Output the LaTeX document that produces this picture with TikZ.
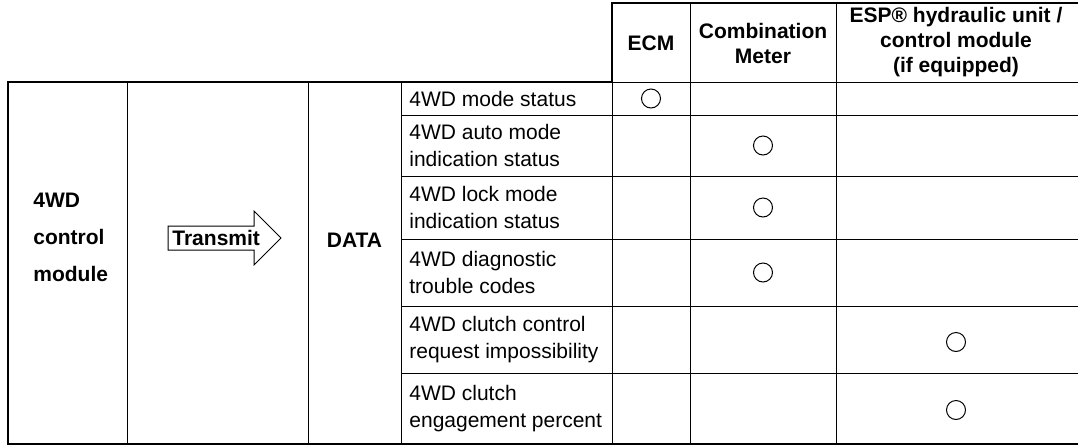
\documentclass[tikz,border=0pt]{standalone}
\usepackage{fontspec}
\setmainfont{Liberation Sans}
\usetikzlibrary{positioning}

\tikzset{
  frame/.style={line width=1pt},
  rule/.style={line width=0.5pt},
  head/.style={font=\bfseries\fontsize{10.5}{12.5}\selectfont, align=center, inner sep=0pt},
  item/.style={font=\fontsize{10.5}{13.5}\selectfont, align=left, anchor=west, inner sep=0pt},
  hit/.style={draw, circle, line width=0.5pt, minimum size=9.5pt, inner sep=0pt}
}

\begin{document}
\begin{tikzpicture}[x=0.5pt, y=-0.5pt, line cap=rect]
  \useasboundingbox (0,0) rectangle (1078,446);

  % Header frame
  \draw[frame] (612,82) -- (612,3) -- (1078,3);
  \draw[rule] (612,82) -- (1078,82);
  \draw[rule] (690,3) -- (690,444);
  \draw[rule] (836,3) -- (836,444);

  % Body frame
  \draw[frame] (612,82) -- (8,82) -- (8,444) -- (1078,444);
  \draw[rule] (127,82) -- (127,444);
  \draw[rule] (308,82) -- (308,444);
  \draw[rule] (401,82) -- (401,444);
  \draw[rule] (612,82) -- (612,444);

  % Row lines
  \draw[rule] (401,115) -- (1078,115);
  \draw[rule] (401,176) -- (1078,176);
  \draw[rule] (401,239) -- (1078,239);
  \draw[rule] (401,306) -- (1078,306);
  \draw[rule] (401,373) -- (1078,373);

  % Header labels
  \node[head] (ecm) at (651,43) {ECM};
  \node[head] (meter) at (763,43) {Combination\\Meter};
  \node[head] (esp) at (956,42) {ESP® hydraulic unit /\\control module\\(if equipped)};

  % Left side
  \node[head, align=left, anchor=west, font=\bfseries\fontsize{10.5}{18.5}\selectfont]
    (tcm) at (33,237) {4WD\\control\\module};
  \node[head] (data) at (354.5,240) {DATA};
  \draw[rule, fill=white] (168,226) -- (254,226) -- (254,211) -- (281,238)
    -- (254,265) -- (254,250) -- (168,250) -- cycle;
  \node[head, anchor=west] (send) at (172,238) {Transmit};

  % Data items
  \node[item] (r1) at (409,98.5) {4WD mode status};
  \node[item] (r2) at (409,145.5) {4WD auto mode\\indication status};
  \node[item] (r3) at (409,207.5) {4WD lock mode\\indication status};
  \node[item] (r4) at (409,272.5) {4WD diagnostic\\trouble codes};
  \node[item] (r5) at (409,339.5) {4WD clutch control\\request impossibility};
  \node[item] (r6) at (409,408.5) {4WD clutch\\engagement percent};

  % Receivers
  \node[hit] (c1) at (651,98.5) {};
  \node[hit] (c2) at (763,145.5) {};
  \node[hit] (c3) at (763,207.5) {};
  \node[hit] (c4) at (763,272.5) {};
  \node[hit] (c5) at (956,342) {};
  \node[hit] (c6) at (956,410) {};
\end{tikzpicture}
\end{document}
